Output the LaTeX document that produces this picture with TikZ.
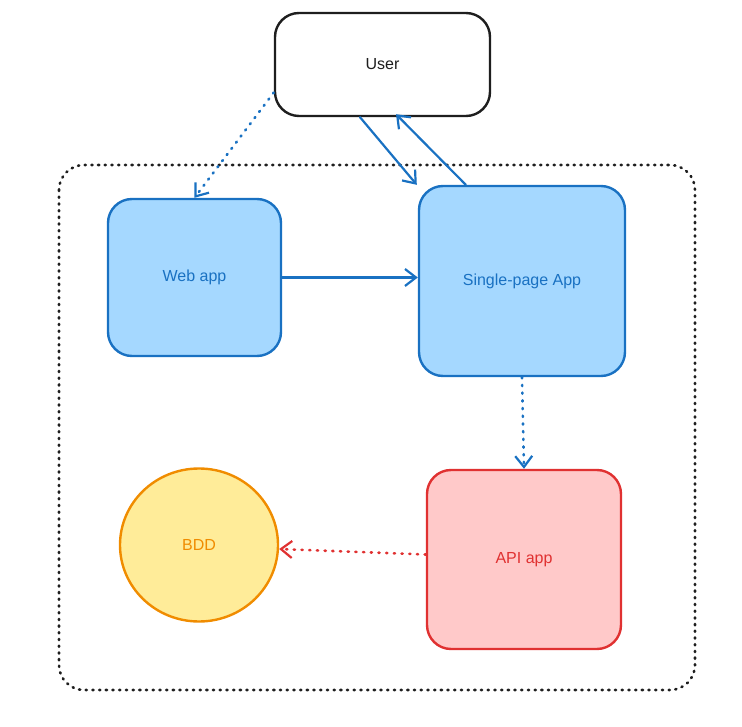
\documentclass[tikz,border=0pt]{standalone}
\usepackage{fontspec}
\setmainfont{Liberation Sans}
\usetikzlibrary{arrows.meta,calc,shapes.geometric}
\definecolor{bluestroke}{HTML}{1971C2}
\definecolor{bluefill}{HTML}{A5D8FF}
\definecolor{redstroke}{HTML}{E03131}
\definecolor{redfill}{HTML}{FFC9C9}
\definecolor{yelstroke}{HTML}{F08C00}
\definecolor{yelfill}{HTML}{FFEC99}
\definecolor{ink}{HTML}{1E1E1E}
\tikzset{
  txt/.style={font=\fontsize{16}{19}\selectfont},
  box/.style={draw, rounded corners=24pt, line width=2.4pt, inner sep=0pt, txt},
  bluebox/.style={box, draw=bluestroke, fill=bluefill, text=bluestroke},
  redbox/.style={box, draw=redstroke, fill=redfill, text=redstroke},
  arr/.style={line width=2.2pt, line cap=round, -{Straight Barb[length=11pt,width=17pt,line width=2.2pt]}},
  dotarr/.style={arr, line width=2.6pt, dash pattern=on 1.2pt off 6.5pt},
}
\begin{document}
\begin{tikzpicture}[x=1pt,y=-1pt]
\useasboundingbox (0,0) rectangle (742,727);
% container
\draw[ink, line width=2.6pt, dash pattern=on 1.2pt off 5.5pt, line cap=round, rounded corners=25pt] (59,165) rectangle (695,690);
% nodes
\node[box, draw=ink, fill=white, text=ink, minimum width=215pt, minimum height=103pt] (user) at (382.5,64.5) {User};
\node[bluebox, minimum width=173pt, minimum height=157pt] (web) at (194.5,277.5) {Web app};
\node[bluebox, minimum width=206pt, minimum height=190pt] (spa) at (522,281) {Single-page App};
\node[redbox, minimum width=194pt, minimum height=179pt] (api) at (524,559.5) {API app};
\node[draw=yelstroke, fill=yelfill, text=yelstroke, line width=2.4pt, ellipse, minimum width=158pt, minimum height=153pt, inner sep=0pt, txt] (bdd) at (199,545) {BDD};
% connectors
\draw[dotarr, bluestroke] ([yshift=-28pt]user.west) -- (web.north);
\draw[arr, bluestroke] ([xshift=-22.5pt]user.south) -- ([xshift=-1pt]spa.north west);
\draw[arr, bluestroke] ([xshift=48pt]spa.north west) -- ([xshift=13.5pt,yshift=3pt]user.south);
\draw[arr, bluestroke] (web.east) -- (web.east -| spa.west);
\draw[dotarr, bluestroke] (spa.south) -- (api.north);
\draw[dotarr, redstroke] ([yshift=5pt]api.west) -- ([yshift=-4pt]bdd.east);
\end{tikzpicture}
\end{document}
